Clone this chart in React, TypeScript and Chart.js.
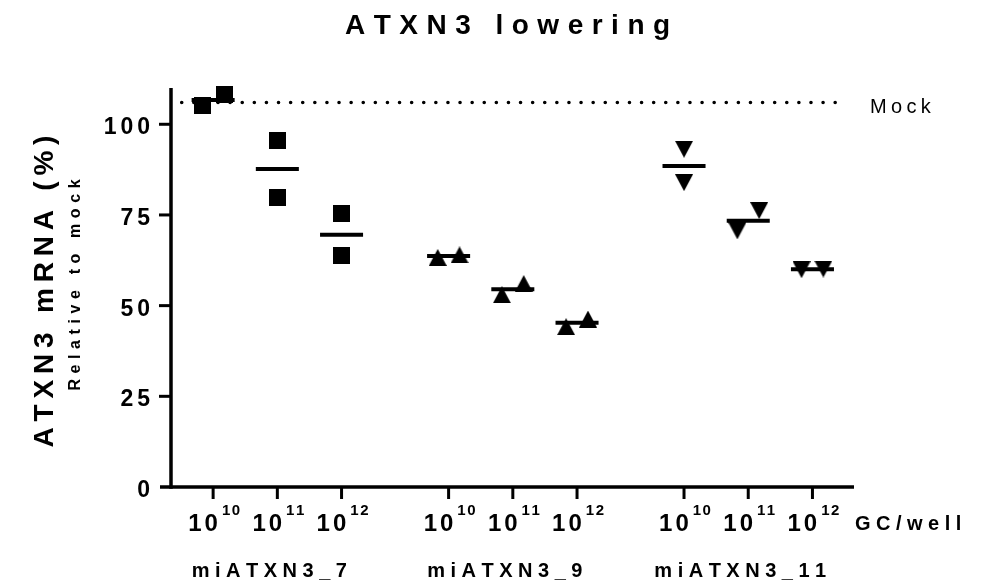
import React, { useEffect, useRef } from 'react';
import { Chart, registerables } from 'chart.js';

Chart.register(...registerables);

// ---------------- data ----------------
const chartTitle = 'ATXN3 lowering';
const yAxisTitle = 'ATXN3 mRNA (%)';
const yAxisSubtitle = 'Relative to mock';
const groupLabels = ['miATXN3_7', 'miATXN3_9', 'miATXN3_11'];
const doseBase = '10';
const doseExponents = ['10', '11', '12'];
const doseUnitLabel = 'GC/well';
const xPositions = [1, 2, 3, 4.667, 5.667, 6.667, 8.333, 9.333, 10.333];
const yTickValues = [0, 25, 50, 75, 100];
const mockLabel = 'Mock';
const mockValue = 106;
const mi7Values = [[105.3, 108.1], [95.5, 79.9], [75.3, 63.8]];
const mi9Values = [[63.3, 64.0], [53.0, 56.1], [44.2, 46.3]];
const mi11Values = [[93.1, 83.9], [70.6, 76.2], [59.9, 60.1]];

// ---------------- helpers ----------------
const FONT = "'Liberation Sans', Arial, Helvetica, sans-serif";
const JITTER = 0.17;
const OVERLAP = 6;
const MEAN_HALF = 0.335;

function toPoints(groupIdx: number, values: number[][]) {
  const pts: { x: number; y: number }[] = [];
  values.forEach((reps, d) => {
    const x = xPositions[groupIdx * 3 + d];
    const sorted = [...reps].sort((a, b) => a - b);
    const close = Math.abs(sorted[sorted.length - 1] - sorted[0]) < OVERLAP;
    sorted.forEach((v, i) => {
      pts.push({ x: close ? x + (i === 0 ? -JITTER : JITTER) : x, y: v });
    });
  });
  return pts;
}

function meanPoints(all: number[][][]) {
  const pts: { x: number; y: number | null }[] = [];
  all.forEach((values, g) => {
    values.forEach((reps, d) => {
      const x = xPositions[g * 3 + d];
      const m = reps.reduce((a, b) => a + b, 0) / reps.length;
      pts.push({ x: x - MEAN_HALF, y: m });
      pts.push({ x: x + MEAN_HALF, y: m });
      pts.push({ x: x + MEAN_HALF + 0.01, y: null });
    });
  });
  return pts;
}

function markerCanvas(kind: 'square' | 'up' | 'down', w: number, h: number) {
  const c = document.createElement('canvas');
  c.width = w;
  c.height = h;
  const g = c.getContext('2d')!;
  g.fillStyle = '#000';
  g.beginPath();
  if (kind === 'square') {
    g.rect(0, 0, w, h);
  } else if (kind === 'up') {
    g.moveTo(w / 2, 0);
    g.lineTo(w, h);
    g.lineTo(0, h);
  } else {
    g.moveTo(0, 0);
    g.lineTo(w, 0);
    g.lineTo(w / 2, h);
  }
  g.closePath();
  g.fill();
  return c;
}

function drawSpaced(
  ctx: CanvasRenderingContext2D,
  text: string,
  x: number,
  y: number,
  font: string,
  ls: number,
  align: 'left' | 'center' | 'right'
) {
  ctx.font = font;
  ctx.textAlign = 'left';
  const chars = Array.from(text);
  const widths = chars.map((c) => ctx.measureText(c).width);
  const total = widths.reduce((a, b) => a + b, 0) + ls * (chars.length - 1);
  let cx = align === 'center' ? x - total / 2 : align === 'right' ? x - total : x;
  chars.forEach((c, i) => {
    ctx.fillText(c, cx, y);
    cx += widths[i] + ls;
  });
  return total;
}

function measureSpaced(ctx: CanvasRenderingContext2D, text: string, font: string, ls: number) {
  ctx.font = font;
  const chars = Array.from(text);
  return chars.reduce((a, c) => a + ctx.measureText(c).width, 0) + ls * (chars.length - 1);
}

const decorPlugin = {
  id: 'decor',
  beforeDatasetsDraw(chart: any) {
    const { ctx, chartArea } = chart;
    const xs = chart.scales.x;
    const ys = chart.scales.y;
    const y0 = ys.getPixelForValue(0);
    const left = chartArea.left;
    ctx.save();
    ctx.strokeStyle = '#000';
    ctx.lineCap = 'butt';
    // y axis
    ctx.lineWidth = 3.5;
    ctx.beginPath();
    ctx.moveTo(left, ys.getPixelForValue(ys.max));
    ctx.lineTo(left, y0 + 1.75);
    ctx.stroke();
    // x axis
    ctx.beginPath();
    ctx.moveTo(left - 11, y0);
    ctx.lineTo(chartArea.right, y0);
    ctx.stroke();
    // y ticks
    ctx.lineWidth = 3;
    yTickValues.forEach((v) => {
      if (v === 0) return;
      const py = ys.getPixelForValue(v);
      ctx.beginPath();
      ctx.moveTo(left - 12, py);
      ctx.lineTo(left, py);
      ctx.stroke();
    });
    // x ticks
    xPositions.forEach((p) => {
      const px = xs.getPixelForValue(p);
      ctx.beginPath();
      ctx.moveTo(px, y0);
      ctx.lineTo(px, y0 + 12);
      ctx.stroke();
    });
    ctx.restore();
  },
  afterDraw(chart: any) {
    const { ctx, chartArea } = chart;
    const xs = chart.scales.x;
    const ys = chart.scales.y;
    ctx.save();
    ctx.fillStyle = '#000';
    ctx.textBaseline = 'alphabetic';

    // title
    drawSpaced(ctx, chartTitle, (chartArea.left + chartArea.right) / 2 - 5, 34, `bold 28px ${FONT}`, 8.5, 'center');

    // y tick labels
    yTickValues.forEach((v) => {
      const py = ys.getPixelForValue(v);
      drawSpaced(ctx, String(v), chartArea.left - 21, py + 10, `bold 23px ${FONT}`, 4, 'right');
    });

    // y axis titles (rotated)
    ctx.save();
    ctx.translate(53, 291.5);
    ctx.rotate(-Math.PI / 2);
    drawSpaced(ctx, yAxisTitle, 0, 0, `bold 28px ${FONT}`, 5.8, 'center');
    ctx.restore();
    ctx.save();
    ctx.translate(80, 285);
    ctx.rotate(-Math.PI / 2);
    drawSpaced(ctx, yAxisSubtitle, 0, 0, `bold 16px ${FONT}`, 5.6, 'center');
    ctx.restore();

    // x tick labels: 10^n
    const baseFont = `bold 24px ${FONT}`;
    const supFont = `bold 15px ${FONT}`;
    xPositions.forEach((p, i) => {
      const px = xs.getPixelForValue(p);
      const exp = doseExponents[i % doseExponents.length];
      const wb = measureSpaced(ctx, doseBase, baseFont, 3);
      const wsup = measureSpaced(ctx, exp, supFont, 1.5);
      const gap = 4;
      const start = px + 1 - (wb + gap + wsup) / 2;
      drawSpaced(ctx, doseBase, start, 531, baseFont, 3, 'left');
      drawSpaced(ctx, exp, start + wb + gap, 515, supFont, 1.5, 'left');
    });

    // unit label
    drawSpaced(ctx, doseUnitLabel, chartArea.right + 1, 530, `bold 20px ${FONT}`, 5.5, 'left');

    // group labels
    groupLabels.forEach((lab, g) => {
      const px = xs.getPixelForValue(xPositions[g * 3 + 1]);
      drawSpaced(ctx, lab, px - 8, 577, `bold 20px ${FONT}`, 5.5, 'center');
    });

    // mock label
    drawSpaced(ctx, mockLabel, chartArea.right + 16, 113, `20px ${FONT}`, 4.3, 'left');
    ctx.restore();
  },
};

export default function App() {
  const canvasRef = useRef<HTMLCanvasElement | null>(null);

  useEffect(() => {
    const canvas = canvasRef.current;
    if (!canvas) return;
    const square = markerCanvas('square', 17, 17);
    const up = markerCanvas('up', 18, 17);
    const down = markerCanvas('down', 18, 17);
    const allValues = [mi7Values, mi9Values, mi11Values];
    const mockStart = 0.511;
    const mockEnd = 10.776;

    const chart = new Chart(canvas, {
      type: 'scatter',
      data: {
        datasets: [
          {
            type: 'line',
            label: mockLabel,
            data: [
              { x: mockStart, y: mockValue },
              { x: mockEnd, y: mockValue },
            ],
            borderColor: '#000',
            borderWidth: 3.6,
            borderDash: [0.001, 12.1],
            borderCapStyle: 'round',
            pointRadius: 0,
            fill: false,
            clip: false,
          } as any,
          {
            label: groupLabels[0],
            data: toPoints(0, mi7Values),
            pointStyle: square as any,
            pointRadius: 9,
            backgroundColor: '#000',
            borderColor: '#000',
            clip: false,
          } as any,
          {
            label: groupLabels[1],
            data: toPoints(1, mi9Values),
            pointStyle: up as any,
            pointRadius: 9,
            backgroundColor: '#000',
            borderColor: '#000',
            clip: false,
          } as any,
          {
            label: groupLabels[2],
            data: toPoints(2, mi11Values),
            pointStyle: down as any,
            pointRadius: 9,
            backgroundColor: '#000',
            borderColor: '#000',
            clip: false,
          } as any,
          {
            type: 'line',
            label: 'Mean',
            data: meanPoints(allValues),
            borderColor: '#000',
            borderWidth: 4,
            borderCapStyle: 'butt',
            pointRadius: 0,
            spanGaps: false,
            fill: false,
            clip: false,
          } as any,
        ],
      },
      options: {
        animation: false,
        responsive: false,
        maintainAspectRatio: false,
        devicePixelRatio: 1,
        layout: { padding: { left: 171, right: 132, top: 88, bottom: 96 } },
        scales: {
          x: { type: 'linear', min: 0.344, max: 10.98, display: false },
          y: { type: 'linear', min: 0, max: 110, display: false },
        },
        plugins: {
          legend: { display: false },
          tooltip: { enabled: false },
          title: { display: false },
        },
        events: [],
      },
      plugins: [decorPlugin],
    });

    return () => {
      chart.destroy();
    };
  }, []);

  return (
    <div style={{ position: 'fixed', left: 0, top: 0, width: 986, height: 583, background: '#fff' }}>
      <canvas ref={canvasRef} width={986} height={583} style={{ display: 'block', width: 986, height: 583 }} />
    </div>
  );
}
